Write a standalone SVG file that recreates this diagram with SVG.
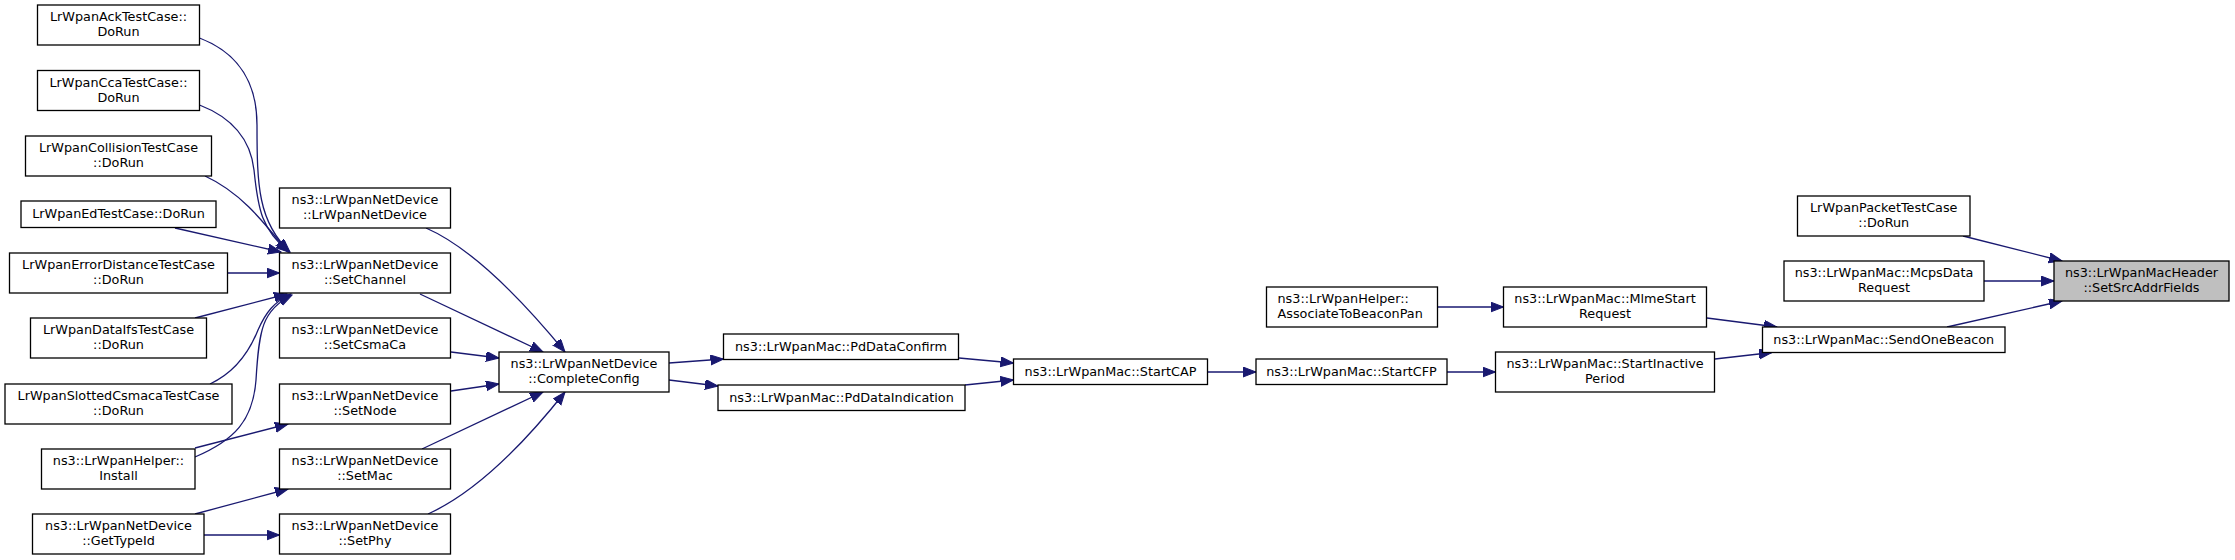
<svg xmlns="http://www.w3.org/2000/svg" width="2235" height="560" viewBox="0 0 2235 560">
<style>
.n rect{fill:#fff;stroke:#000;stroke-width:1.3}
.root rect{fill:#bfbfbf}
text{font-family:"DejaVu Sans","Liberation Sans",sans-serif;font-size:12.8px;fill:#000;text-anchor:middle}
.e path{fill:none;stroke:#191970;stroke-width:1.3;marker-end:url(#ah)}
</style>
<defs>
<marker id="ah" markerUnits="userSpaceOnUse" markerWidth="14" markerHeight="11" refX="13" refY="5" orient="auto">
<path d="M0,0 L13,5 L0,10 z" fill="#191970" stroke="#191970" stroke-width="1"/>
</marker>
</defs>
<rect width="2235" height="560" fill="#fff"/>
<g class="e" id="edges">
<path d="M199.5,38 C236,52 257,80 257,125 C257,185 258,222 290,252"/>
<path d="M199.5,105 C228,116 250,135 254,170 C258,210 262,230 289,252"/>
<path d="M205,176 C240,192 262,220 288,252"/>
<path d="M175,228 L281,252"/>
<path d="M227,273 L279.5,273"/>
<path d="M195,318 L287,294"/>
<path d="M210,384 C236,372 250,350 258,330 C266,312 274,302 291,294"/>
<path d="M195,457 C235,440 253,420 256,380 C259,330 262,310 292,295"/>
<path d="M195,448 L288,424"/>
<path d="M195,514 L288,489"/>
<path d="M204,535 L279.5,535"/>
<path d="M426,228 C465,245 510,285 565,352"/>
<path d="M420,294 L543,352"/>
<path d="M451,352 L499,358"/>
<path d="M451,391 L499,384"/>
<path d="M422,449 L543,392"/>
<path d="M428,514 C468,496 515,455 565,392"/>
<path d="M669,363 L723.5,359"/>
<path d="M669,380 L718,386"/>
<path d="M959,358 L1013.5,363"/>
<path d="M965,385 L1013.5,380"/>
<path d="M1207.5,372 L1256,372"/>
<path d="M1447,372 L1495.5,372"/>
<path d="M1437.5,307 L1503.5,307"/>
<path d="M1707,318 L1777,327"/>
<path d="M1715,359 L1772,352.5"/>
<path d="M1947,327 L2062,301"/>
<path d="M1963,236 L2062,261"/>
<path d="M1984,281 L2054,281"/>
</g>
<g class="n" id="n_ack"><rect x="37.5" y="5" width="162" height="40"/><text x="118.5" y="21">LrWpanAckTestCase::</text><text x="118.5" y="36">DoRun</text></g>
<g class="n" id="n_cca"><rect x="37.5" y="70.5" width="162" height="40"/><text x="118.5" y="86.5">LrWpanCcaTestCase::</text><text x="118.5" y="101.5">DoRun</text></g>
<g class="n" id="n_coll"><rect x="25.5" y="136" width="186" height="40"/><text x="118.5" y="152">LrWpanCollisionTestCase</text><text x="118.5" y="167">::DoRun</text></g>
<g class="n" id="n_ed"><rect x="21" y="201" width="195" height="26.5"/><text x="118.5" y="217.5">LrWpanEdTestCase::DoRun</text></g>
<g class="n" id="n_errd"><rect x="9.5" y="253" width="218" height="40"/><text x="118.5" y="269">LrWpanErrorDistanceTestCase</text><text x="118.5" y="284">::DoRun</text></g>
<g class="n" id="n_ifs"><rect x="30.5" y="318" width="176" height="40"/><text x="118.5" y="334">LrWpanDataIfsTestCase</text><text x="118.5" y="349">::DoRun</text></g>
<g class="n" id="n_slot"><rect x="5" y="384" width="227" height="40"/><text x="118.5" y="400">LrWpanSlottedCsmacaTestCase</text><text x="118.5" y="415">::DoRun</text></g>
<g class="n" id="n_install"><rect x="41.5" y="449" width="153.5" height="40"/><text x="118.5" y="465">ns3::LrWpanHelper::</text><text x="118.5" y="480">Install</text></g>
<g class="n" id="n_gettype"><rect x="32.5" y="514" width="171.5" height="40"/><text x="118.5" y="530">ns3::LrWpanNetDevice</text><text x="118.5" y="545">::GetTypeId</text></g>
<g class="n" id="n_ctor"><rect x="279.5" y="188" width="171" height="40"/><text x="365" y="204">ns3::LrWpanNetDevice</text><text x="365" y="219">::LrWpanNetDevice</text></g>
<g class="n" id="n_setchan"><rect x="279.5" y="253" width="171" height="40"/><text x="365" y="269">ns3::LrWpanNetDevice</text><text x="365" y="284">::SetChannel</text></g>
<g class="n" id="n_setcsma"><rect x="279.5" y="318" width="171" height="40"/><text x="365" y="334">ns3::LrWpanNetDevice</text><text x="365" y="349">::SetCsmaCa</text></g>
<g class="n" id="n_setnode"><rect x="279.5" y="384" width="171" height="40"/><text x="365" y="400">ns3::LrWpanNetDevice</text><text x="365" y="415">::SetNode</text></g>
<g class="n" id="n_setmac"><rect x="279.5" y="449" width="171" height="40"/><text x="365" y="465">ns3::LrWpanNetDevice</text><text x="365" y="480">::SetMac</text></g>
<g class="n" id="n_setphy"><rect x="279.5" y="514" width="171" height="40"/><text x="365" y="530">ns3::LrWpanNetDevice</text><text x="365" y="545">::SetPhy</text></g>
<g class="n" id="n_complete"><rect x="499" y="352" width="170" height="40"/><text x="584" y="368">ns3::LrWpanNetDevice</text><text x="584" y="383">::CompleteConfig</text></g>
<g class="n" id="n_pdconf"><rect x="723.5" y="334" width="235" height="25.5"/><text x="841" y="350.5">ns3::LrWpanMac::PdDataConfirm</text></g>
<g class="n" id="n_pdind"><rect x="718" y="385" width="247" height="25.5"/><text x="841.5" y="401.5">ns3::LrWpanMac::PdDataIndication</text></g>
<g class="n" id="n_cap"><rect x="1013.5" y="359" width="194" height="25.5"/><text x="1110.5" y="375.5">ns3::LrWpanMac::StartCAP</text></g>
<g class="n" id="n_cfp"><rect x="1256" y="359" width="191" height="25.5"/><text x="1351.5" y="375.5">ns3::LrWpanMac::StartCFP</text></g>
<g class="n" id="n_assoc"><rect x="1266.5" y="287" width="171" height="40"/><text x="1277.5" y="303" style="text-anchor:start">ns3::LrWpanHelper::</text><text x="1277.5" y="318" style="text-anchor:start">AssociateToBeaconPan</text></g>
<g class="n" id="n_mlme"><rect x="1503.5" y="287" width="203" height="40"/><text x="1605" y="303">ns3::LrWpanMac::MlmeStart</text><text x="1605" y="318">Request</text></g>
<g class="n" id="n_inact"><rect x="1495.5" y="352" width="219" height="40"/><text x="1605" y="368">ns3::LrWpanMac::StartInactive</text><text x="1605" y="383">Period</text></g>
<g class="n" id="n_beacon"><rect x="1762.5" y="327" width="242.5" height="25.5"/><text x="1883.75" y="343.5">ns3::LrWpanMac::SendOneBeacon</text></g>
<g class="n" id="n_packet"><rect x="1797.5" y="196" width="172.5" height="40"/><text x="1883.75" y="212">LrWpanPacketTestCase</text><text x="1883.75" y="227">::DoRun</text></g>
<g class="n" id="n_mcps"><rect x="1784" y="261" width="200" height="40"/><text x="1884" y="277">ns3::LrWpanMac::McpsData</text><text x="1884" y="292">Request</text></g>
<g class="n root" id="n_root"><rect x="2054" y="261" width="175" height="40"/><text x="2141.5" y="277">ns3::LrWpanMacHeader</text><text x="2141.5" y="292">::SetSrcAddrFields</text></g>
</svg>
